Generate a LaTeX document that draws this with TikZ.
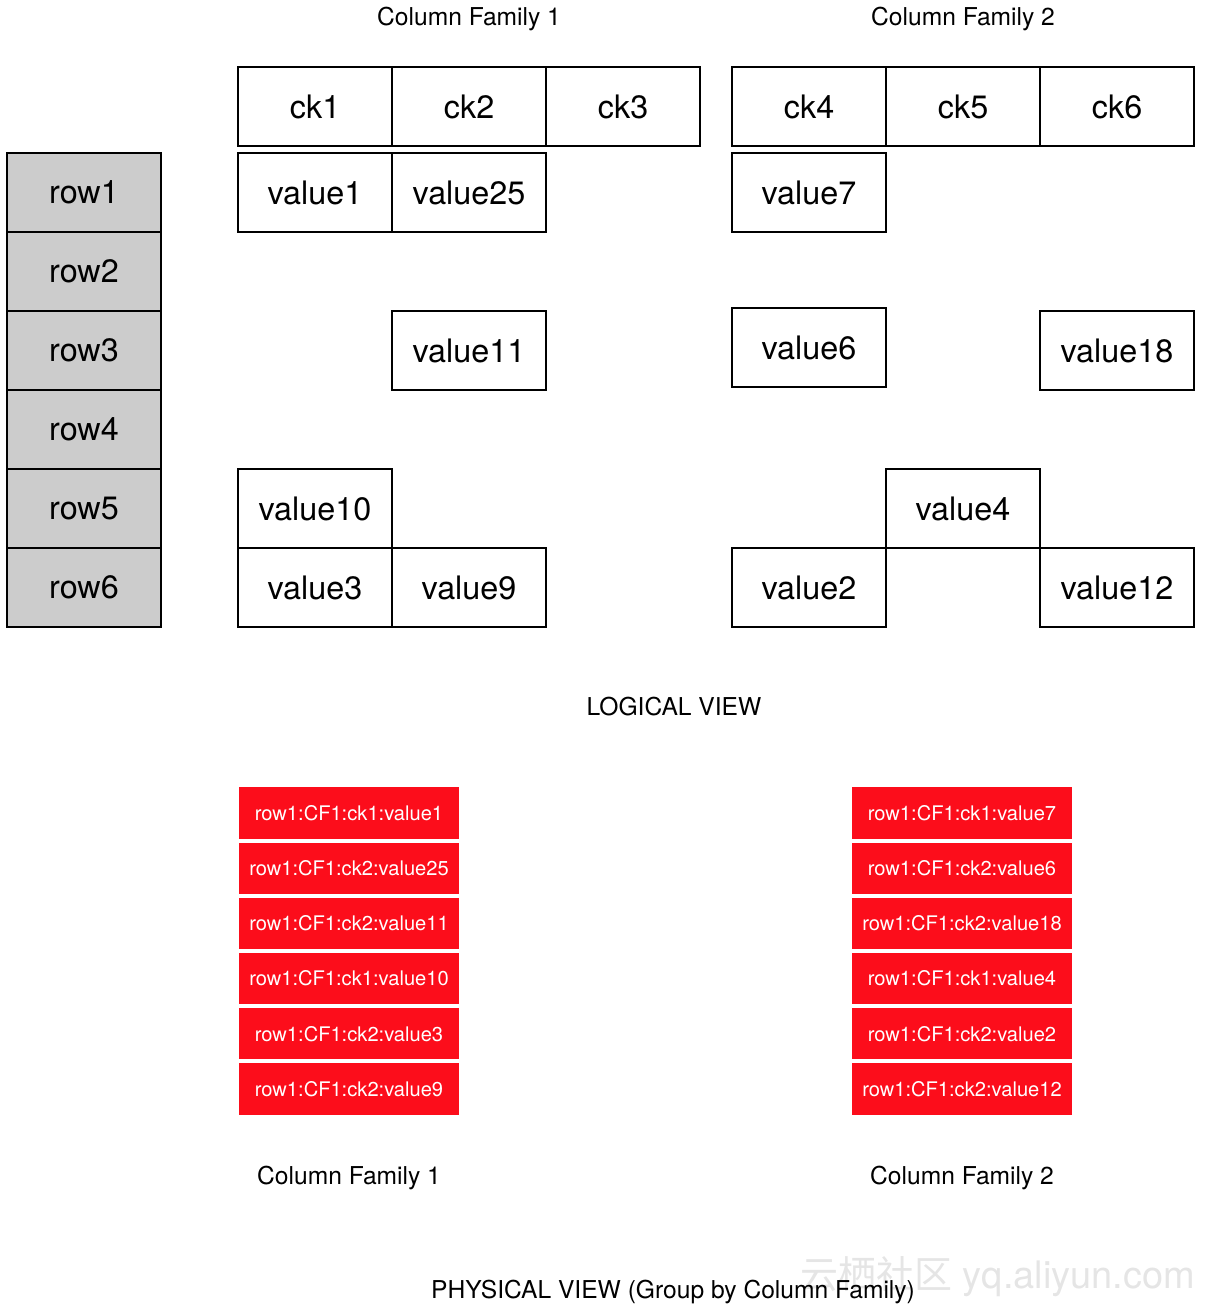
\documentclass[tikz,border=0pt]{standalone}
\usepackage{fontspec}
\setmainfont{TeX Gyre Heros}
\newfontfamily\cjkfont{Noto Sans CJK SC}
\usetikzlibrary{positioning}
\definecolor{cellred}{HTML}{FC0D1B}
\definecolor{rowgray}{HTML}{CCCCCC}
\tikzstyle{rowkey} = [rectangle, draw, line width=1.2pt, fill=rowgray, minimum width=3.85cm, minimum height=1.975cm, inner sep=0pt, outer sep=0pt, font=\fontsize{23}{27}\selectfont]
\tikzstyle{cell} = [rectangle, draw, line width=1.2pt, fill=white, minimum width=3.85cm, minimum height=1.975cm, inner sep=0pt, outer sep=0pt, font=\fontsize{23}{27}\selectfont]
\tikzstyle{kv} = [rectangle, fill=cellred, text=white, minimum width=5.5cm, minimum height=1.28cm, inner sep=0pt, outer sep=0pt, font=\fontsize{14.3}{17}\selectfont]
\tikzstyle{caption} = [font=\fontsize{17.5}{20}\selectfont]

\begin{document}
\begin{tikzpicture}[x=0.025cm, y=-0.025cm, node distance=0pt]
\useasboundingbox (0,0) rectangle (1210,1310);

% Row keys
\node[rowkey] (row1) at (84,192.5) {row1};
\node[rowkey, below=of row1] (row2) {row2};
\node[rowkey, below=of row2] (row3) {row3};
\node[rowkey, below=of row3] (row4) {row4};
\node[rowkey, below=of row4] (row5) {row5};
\node[rowkey, below=of row5] (row6) {row6};

% Column Family 1: column keys
\node[caption] (cf1title) at (469,19) {Column Family 1};
\node[cell] (ck1) at (315,106.5) {ck1};
\node[cell, right=of ck1] (ck2) {ck2};
\node[cell, right=of ck2] (ck3) {ck3};

% Column Family 2: column keys
\node[caption] (cf2title) at (963,19) {Column Family 2};
\node[cell] (ck4) at (809,106.5) {ck4};
\node[cell, right=of ck4] (ck5) {ck5};
\node[cell, right=of ck5] (ck6) {ck6};

% Values of Column Family 1
\node[cell] (value1) at (315,192.5) {value1};
\node[cell, right=of value1] (value25) {value25};
\node[cell] (value11) at (469,350.5) {value11};
\node[cell] (value10) at (315,508.5) {value10};
\node[cell, below=of value10] (value3) {value3};
\node[cell, right=of value3] (value9) {value9};

% Values of Column Family 2
\node[cell] (value7) at (809,192.5) {value7};
\node[cell] (value6) at (809,347.5) {value6};
\node[cell] (value18) at (1117,350.5) {value18};
\node[cell] (value4) at (963,508.5) {value4};
\node[cell] (value2) at (809,587.5) {value2};
\node[cell] (value12) at (1117,587.5) {value12};

\node[caption] (logical) at (674,707) {LOGICAL VIEW};

% Physical view: Column Family 1
\node[kv] (kva1) at (349,813) {row1:CF1:ck1:value1};
\node[kv, below=0.1cm of kva1] (kva2) {row1:CF1:ck2:value25};
\node[kv, below=0.1cm of kva2] (kva3) {row1:CF1:ck2:value11};
\node[kv, below=0.1cm of kva3] (kva4) {row1:CF1:ck1:value10};
\node[kv, below=0.1cm of kva4] (kva5) {row1:CF1:ck2:value3};
\node[kv, below=0.1cm of kva5] (kva6) {row1:CF1:ck2:value9};
\node[caption] (phys1) at (349,1178) {Column Family 1};

% Physical view: Column Family 2
\node[kv] (kvb1) at (962,813) {row1:CF1:ck1:value7};
\node[kv, below=0.1cm of kvb1] (kvb2) {row1:CF1:ck2:value6};
\node[kv, below=0.1cm of kvb2] (kvb3) {row1:CF1:ck2:value18};
\node[kv, below=0.1cm of kvb3] (kvb4) {row1:CF1:ck1:value4};
\node[kv, below=0.1cm of kvb4] (kvb5) {row1:CF1:ck2:value2};
\node[kv, below=0.1cm of kvb5] (kvb6) {row1:CF1:ck2:value12};
\node[caption] (phys2) at (962,1178) {Column Family 2};

% Watermark
\node[text=black!10, font=\fontsize{27}{30}\selectfont, anchor=east] (mark) at (1200,1277) {{\cjkfont 云栖社区} yq.aliyun.com};

\node[caption] (physical) at (673,1292) {PHYSICAL VIEW (Group by Column Family)};

\end{tikzpicture}
\end{document}
